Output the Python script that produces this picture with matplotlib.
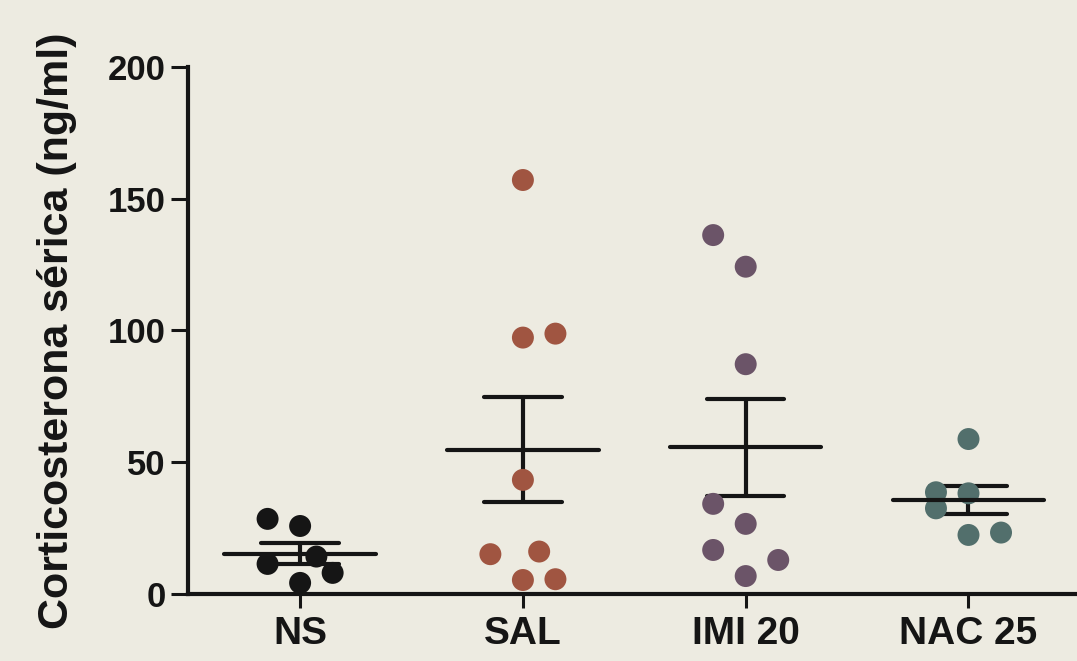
import numpy as np
import matplotlib
matplotlib.use("Agg")
import matplotlib.pyplot as plt

groups = ["NS", "SAL", "IMI 20", "NAC 25"]
ns_vals = [28.5, 25.8, 11.4, 14.2, 8.0, 4.2]
sal_vals = [157.1, 97.3, 98.8, 43.3, 15.1, 16.1, 5.3, 5.6]
imi_vals = [136.2, 124.2, 87.2, 34.2, 26.6, 16.7, 12.9, 6.8]
nac_vals = [58.8, 38.6, 38.2, 32.5, 22.4, 23.3]

# horizontal scatter slots (in dot widths) so points don't overlap
ns_slot = [-1, 0, -1, 0.5, 1, 0]
sal_slot = [0, 0, 1, 0, -1, 0.5, 0, 1]
imi_slot = [-1, 0, 0, -1, 0, -1, 1, 0]
nac_slot = [0, -1, 0, -1, 0, 1]

yticks = [0, 50, 100, 150, 200]

BG = "#edebe1"
COLORS = ["#151515", "#a05541", "#6b5468", "#526f6c"]
INK = "#151515"
STEP = 0.146
MEAN_HALF = 0.34
CAP_HALF = 0.174
LW = 3.0


def main():
    values = [ns_vals, sal_vals, imi_vals, nac_vals]
    slots = [ns_slot, sal_slot, imi_slot, nac_slot]

    plt.rcParams["font.family"] = ["Liberation Sans", "DejaVu Sans"]
    plt.rcParams["font.weight"] = "bold"

    fig = plt.figure(figsize=(10.77, 6.61), dpi=100, facecolor=BG)
    ax = fig.add_axes([0.1746, 0.1014, 0.8254, 0.7973], facecolor=BG)

    for i, (vals, slot) in enumerate(zip(values, slots)):
        v = np.array(vals)
        mean = v.mean()
        sem = v.std(ddof=1) / np.sqrt(len(v))
        # error bar (SEM)
        ax.plot([i, i], [mean - sem, mean + sem], color=INK, lw=LW, zorder=2,
                solid_capstyle="butt")
        for y in (mean - sem, mean + sem):
            ax.plot([i - CAP_HALF, i + CAP_HALF], [y, y], color=INK, lw=LW,
                    zorder=2, solid_capstyle="round")
        ax.scatter(i + np.array(slot) * STEP, v, s=250, color=COLORS[i],
                   edgecolors="none", zorder=3)
        ax.plot([i - MEAN_HALF, i + MEAN_HALF], [mean, mean], color=INK, lw=LW,
                zorder=4, solid_capstyle="round")

    ax.set_xlim(-0.503, 3.487)
    ax.set_ylim(0, 200)
    ax.set_xticks(range(len(groups)))
    ax.set_xticklabels(groups, fontsize=28, fontweight="bold", color=INK)
    ax.set_yticks(yticks)
    ax.set_yticklabels([str(t) for t in yticks], fontsize=25,
                       fontweight="bold", color=INK)
    ax.tick_params(axis="y", length=12, width=2.2, pad=4, color=INK)
    ax.tick_params(axis="x", length=10, width=2.2, pad=6, color=INK)

    for side in ("top", "right"):
        ax.spines[side].set_visible(False)
    for side in ("left", "bottom"):
        ax.spines[side].set_linewidth(LW)
        ax.spines[side].set_color(INK)

    ax.set_ylabel("Corticosterona sérica (ng/ml)", fontsize=31,
                  fontweight="bold", color=INK, labelpad=22)

    fig.savefig("out.png", dpi=100, facecolor=BG)
    plt.close(fig)


if __name__ == "__main__":
    main()
